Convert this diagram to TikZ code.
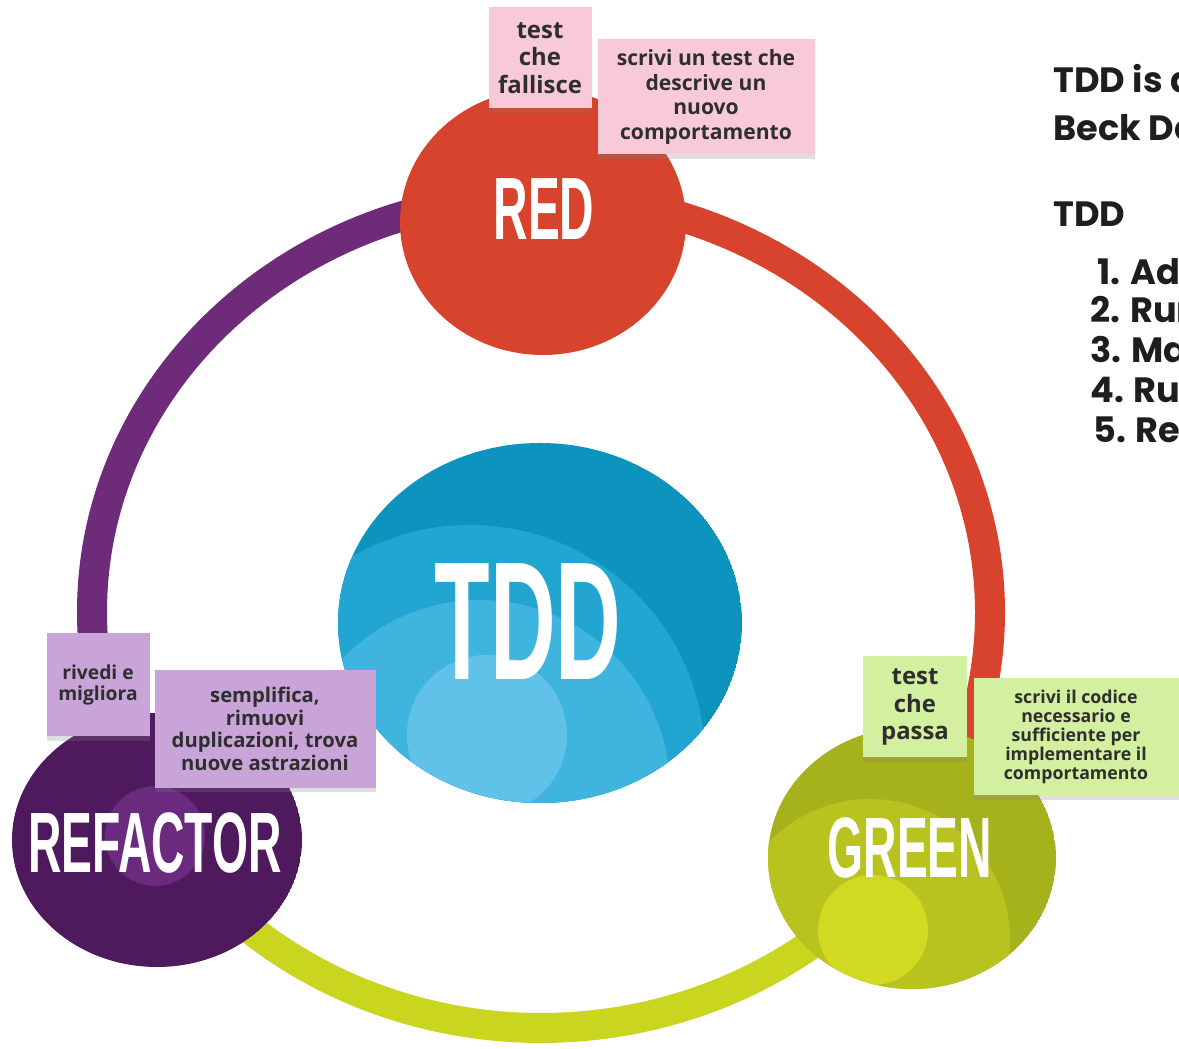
\documentclass[tikz,border=0pt]{standalone}
\usepackage{fontspec}
\usepackage{graphicx}
\usetikzlibrary{shadows}
\newfontfamily\bannerfont[FakeStretch=0.54]{Liberation Sans Bold}
\newfontfamily\notefont{Open Sans}
\newfontfamily\sidefont{Poppins}
\definecolor{tddred}{HTML}{D8432E}
\definecolor{ringpurple}{HTML}{6E2B7A}
\definecolor{ringlime}{HTML}{C9D51F}
\definecolor{refA}{HTML}{4F1A5D}
\definecolor{refB}{HTML}{6A2B7F}
\definecolor{greenA}{HTML}{A6B21C}
\definecolor{greenB}{HTML}{B8C31F}
\definecolor{greenC}{HTML}{D1D921}
\definecolor{tddA}{HTML}{0C94BF}
\definecolor{tddB}{HTML}{22A5D0}
\definecolor{tddC}{HTML}{3FB4DE}
\definecolor{tddD}{HTML}{60C2E8}
\definecolor{notepink}{HTML}{F8C9D9}
\definecolor{notelilac}{HTML}{C9A4D8}
\definecolor{notelime}{HTML}{D3EFA0}
\definecolor{notetext}{HTML}{2E2E2E}
\definecolor{sidetext}{HTML}{1E1E1E}
\begin{document}
\begin{tikzpicture}[x=0.025cm,y=0.025cm,
  ring/.style={line width=0.75cm,line cap=butt},
  banner/.style={text=white,inner sep=0pt,font=\bannerfont\fontsize{#1}{#1}\selectfont},
  note/.style n args={3}{rectangle,inner sep=0pt,align=center,text=notetext,fill=#1,
    minimum width=#2*0.025cm,minimum height=#3*0.025cm,
    drop shadow={shadow xshift=0pt,shadow yshift=-3pt,opacity=0.25}},
  side/.style={anchor=base west,inner sep=0pt,text=sidetext,font=\sidefont\bfseries\fontsize{25}{25}\selectfont}]
\useasboundingbox (0,0) rectangle (1179,1049);
\clip (0,0) rectangle (1179,1049);
\fill[white] (0,0) rectangle (1179,1049);
\coordinate (ring) at (541,437);
\draw[ring,ringpurple] (ring) ++(90:449 and 416) arc[start angle=90,end angle=212.7,x radius=449,y radius=416];
\draw[ring,ringlime] (ring) ++(212.7:449 and 416) arc[start angle=212.7,end angle=324.4,x radius=449,y radius=416];
\draw[ring,tddred] (ring) ++(324.4:449 and 416) arc[start angle=324.4,end angle=450,x radius=449,y radius=416];
\fill[tddred] (543,827) ellipse[x radius=143,y radius=133];
\begin{scope}
\clip (157,209) ellipse[x radius=145,y radius=127];
\fill[refA] (157,209) ellipse[x radius=145,y radius=127];
\fill[refB] (155,213) circle[radius=50];
\end{scope}
\begin{scope}
\clip (912,191) ellipse[x radius=144,y radius=131];
\fill[greenA] (912,191) ellipse[x radius=144,y radius=131];
\fill[greenB] (870,110) circle[radius=140];
\fill[greenC] (873,119) circle[radius=55];
\end{scope}
\begin{scope}
\clip (540,426) ellipse[x radius=202,y radius=180];
\fill[tddA] (540,426) ellipse[x radius=202,y radius=180];
\fill[tddB] (470,289) circle[radius=235];
\fill[tddC] (480,259) circle[radius=190];
\fill[tddD] (487,314) circle[radius=80];
\end{scope}
\node[banner=62.9] (red) at (544,840) {RED};
\node[banner=60.9] (refactor) at (155,206) {REFACTOR};
\node[banner=60.9] (green) at (910,201) {GREEN};
\node[banner=119.8] (tdd) at (528,427) {TDD};
\begin{scope}[font=\notefont\bfseries]
\node[note={notepink}{103}{101},font=\notefont\bfseries\fontsize{17}{19.5}\selectfont] (failnote) at (540,991) {test\\che\\fallisce};
\node[note={notepink}{217}{115},font=\notefont\bfseries\fontsize{15}{17.4}\selectfont] (failtext) at (706,952) {scrivi un test che\\descrive un\\nuovo\\comportamento};
\node[note={notelilac}{103}{103},font=\notefont\bfseries\fontsize{13.7}{15.5}\selectfont] (refnote) at (98,364) {rivedi e\\migliora};
\node[note={notelilac}{221}{118},font=\notefont\bfseries\fontsize{14.4}{16}\selectfont] (reftext) at (265,320) {semplifica,\\rimuovi\\duplicazioni, trova\\nuove astrazioni};
\node[note={notelime}{104}{101},font=\notefont\bfseries\fontsize{17}{19.5}\selectfont] (passnote) at (915,342) {test\\che\\passa};
\node[note={notelime}{205}{117},font=\notefont\bfseries\fontsize{12.6}{13.5}\selectfont] (passtext) at (1076,312) {scrivi il codice\\necessario e\\sufficiente per\\implementare il\\comportamento};
\end{scope}
\node[side] (intro) at (1053,956) {TDD is a};
\node[side] (beck) at (1053,908) {Beck De};
\node[side] (steps) at (1053,822) {TDD};
\node[side] (stepA) at (1097,764) {1. Add};
\node[side] (stepB) at (1090,726) {2. Run};
\node[side] (stepC) at (1090,686) {3. Make};
\node[side] (stepD) at (1090,646) {4. Run};
\node[side] (stepE) at (1093,606) {5. Refactor};
\end{tikzpicture}
\end{document}
